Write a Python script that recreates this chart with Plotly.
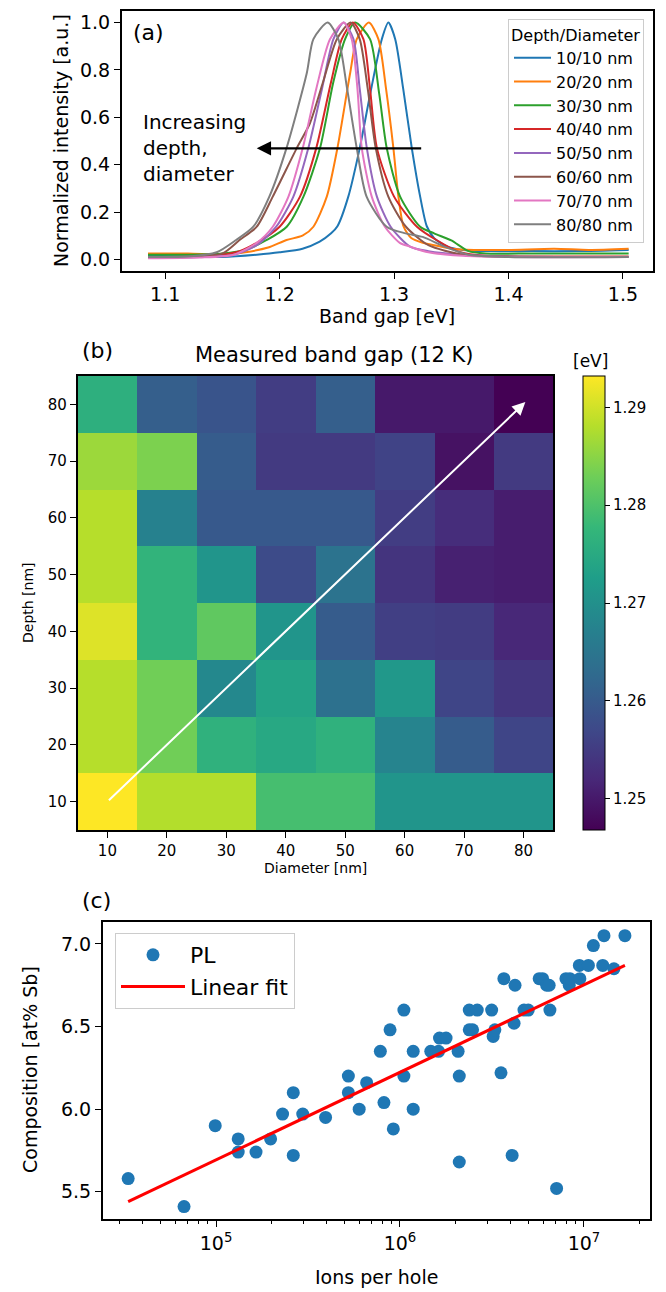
import plotly.graph_objects as go

W, H = 666, 1292
FONT = "DejaVu Sans"

# ---------------- Panel (a): normalized PL spectra ----------------
labels_a = ["10/10 nm", "20/20 nm", "30/30 nm", "40/40 nm",
            "50/50 nm", "60/60 nm", "70/70 nm", "80/80 nm"]
colors_a = ["#1f77b4", "#ff7f0e", "#2ca02c", "#d62728",
            "#9467bd", "#8c564b", "#e377c2", "#7f7f7f"]

e_10 = [1.085, 1.12, 1.15, 1.18, 1.20, 1.22, 1.235, 1.245, 1.2505, 1.26, 1.27, 1.28, 1.2893, 1.295,
        1.301, 1.308, 1.3155, 1.3228, 1.3286, 1.335, 1.346, 1.36, 1.38, 1.42, 1.46, 1.505]
i_10 = [0.015, 0.012, 0.01, 0.02, 0.03, 0.045, 0.075, 0.11, 0.14, 0.265, 0.47, 0.72, 0.93, 1.0,
        0.93, 0.72, 0.47, 0.265, 0.14, 0.09, 0.055, 0.04, 0.035, 0.035, 0.035, 0.04]

e_20 = [1.085, 1.12, 1.15, 1.17, 1.19, 1.206, 1.22, 1.2295, 1.2412, 1.2505, 1.2616, 1.2674, 1.278,
        1.2863, 1.293, 1.2994, 1.3038, 1.3082, 1.315, 1.325, 1.335, 1.35, 1.37, 1.40, 1.44, 1.47, 1.505]
i_20 = [0.025, 0.025, 0.02, 0.03, 0.05, 0.082, 0.1, 0.138, 0.265, 0.47, 0.786, 0.93, 1.0,
        0.93, 0.72, 0.47, 0.265, 0.14, 0.09, 0.07, 0.06, 0.045, 0.04, 0.04, 0.045, 0.04, 0.045]

e_30 = [1.085, 1.12, 1.15, 1.17, 1.1887, 1.2062, 1.2208, 1.2353, 1.247, 1.2572, 1.266, 1.279, 1.287,
        1.2936, 1.3053, 1.3228, 1.335, 1.35, 1.365, 1.38, 1.42, 1.46, 1.505]
i_30 = [0.02, 0.02, 0.025, 0.04, 0.082, 0.138, 0.265, 0.47, 0.75, 0.93, 1.0, 0.93, 0.7,
        0.47, 0.265, 0.138, 0.11, 0.08, 0.035, 0.025, 0.025, 0.025, 0.025]

e_40 = [1.085, 1.12, 1.15, 1.165, 1.18, 1.20, 1.2178, 1.232, 1.245, 1.2543, 1.264, 1.2732, 1.279,
        1.285, 1.30, 1.32, 1.337, 1.358, 1.38, 1.42, 1.505]
i_40 = [0.01, 0.01, 0.02, 0.035, 0.07, 0.138, 0.265, 0.47, 0.75, 0.93, 1.0, 0.93, 0.72,
        0.47, 0.265, 0.138, 0.082, 0.03, 0.015, 0.012, 0.012]

e_50 = [1.085, 1.13, 1.16, 1.18, 1.197, 1.212, 1.2251, 1.237, 1.247, 1.256, 1.2645, 1.27, 1.2762,
        1.285, 1.297, 1.314, 1.33, 1.36, 1.40, 1.505]
i_50 = [0.01, 0.01, 0.02, 0.06, 0.138, 0.265, 0.47, 0.72, 0.93, 1.0, 0.93, 0.72, 0.47,
        0.265, 0.138, 0.054, 0.035, 0.02, 0.012, 0.01]

e_60 = [1.085, 1.12, 1.15, 1.165, 1.18, 1.194, 1.215, 1.2265, 1.238, 1.25, 1.262, 1.27, 1.277,
        1.284, 1.295, 1.31, 1.33, 1.36, 1.40, 1.505]
i_60 = [0.01, 0.012, 0.025, 0.082, 0.138, 0.265, 0.47, 0.575, 0.75, 0.93, 1.0, 0.93, 0.72,
        0.47, 0.265, 0.14, 0.06, 0.02, 0.012, 0.01]

e_70 = [1.085, 1.13, 1.16, 1.18, 1.194, 1.2077, 1.2202, 1.232, 1.244, 1.256, 1.263, 1.268, 1.2718,
        1.2805, 1.292, 1.305, 1.314, 1.33, 1.36, 1.40, 1.505]
i_70 = [0.005, 0.008, 0.02, 0.07, 0.138, 0.265, 0.47, 0.72, 0.93, 1.0, 0.93, 0.72, 0.47,
        0.265, 0.138, 0.07, 0.054, 0.03, 0.015, 0.01, 0.01]

e_80 = [1.085, 1.12, 1.145, 1.162, 1.177, 1.191, 1.206, 1.2237, 1.2295, 1.242, 1.2513, 1.259, 1.2674,
        1.276, 1.2935, 1.31, 1.325, 1.344, 1.365, 1.40, 1.505]
i_80 = [0.01, 0.012, 0.03, 0.082, 0.138, 0.265, 0.47, 0.786, 0.93, 1.0, 0.93, 0.72, 0.47,
        0.265, 0.138, 0.11, 0.095, 0.054, 0.02, 0.01, 0.01]

spectra_e = [e_10, e_20, e_30, e_40, e_50, e_60, e_70, e_80]
spectra_i = [i_10, i_20, i_30, i_40, i_50, i_60, i_70, i_80]

# ---------------- Panel (b): measured band gap map ----------------
diam = [10, 20, 30, 40, 50, 60, 70, 80]
depth = [10, 20, 30, 40, 50, 60, 70, 80]
gap = [  # rows: depth 10 -> 80, cols: diameter 10 -> 80
    [1.2932, 1.2879, 1.2879, 1.2793, 1.2793, 1.2710, 1.2710, 1.2710],
    [1.2881, 1.2830, 1.2765, 1.2746, 1.2765, 1.2677, 1.2603, 1.2565],
    [1.2881, 1.2830, 1.2686, 1.2737, 1.2640, 1.2714, 1.2565, 1.2542],
    [1.2909, 1.2770, 1.2816, 1.2710, 1.2603, 1.2556, 1.2551, 1.2519],
    [1.2881, 1.2770, 1.2710, 1.2575, 1.2644, 1.2538, 1.2510, 1.2505],
    [1.2881, 1.2672, 1.2598, 1.2598, 1.2598, 1.2552, 1.2528, 1.2505],
    [1.2862, 1.2839, 1.2603, 1.2547, 1.2547, 1.2561, 1.2490, 1.2547],
    [1.2760, 1.2607, 1.2589, 1.2552, 1.2607, 1.2500, 1.2500, 1.2468],
]
cbar_ticks = [1.25, 1.26, 1.27, 1.28, 1.29]

# ---------------- Panel (c): composition vs ions per hole ----------------
ions = [3.33e4, 6.7e4, 9.9e4, 1.32e5, 1.32e5, 1.65e5, 1.98e5, 2.30e5, 2.63e5, 2.63e5,
        2.96e5, 3.94e5, 5.24e5, 5.24e5, 6.0e5, 6.59e5, 7.82e5, 8.18e5, 8.83e5, 9.2e5,
        1.05e6, 1.05e6, 1.18e6, 1.18e6, 1.47e6, 1.62e6, 1.64e6, 1.78e6, 2.07e6, 2.10e6,
        2.10e6, 2.38e6, 2.38e6, 2.48e6, 2.63e6, 3.15e6, 3.21e6, 3.28e6, 3.54e6, 3.67e6,
        4.07e6, 4.17e6, 4.22e6, 4.72e6, 4.98e6, 5.71e6, 5.96e6, 6.27e6, 6.47e6, 6.53e6,
        7.10e6, 7.98e6, 8.32e6, 8.39e6, 9.5e6, 9.44e6, 1.057e7, 1.125e7, 1.265e7, 1.285e7,
        1.455e7, 1.67e7]
comp = [5.58, 5.41, 5.90, 5.82, 5.74, 5.74, 5.82, 5.97, 6.10, 5.72,
        5.97, 5.95, 6.20, 6.10, 6.00, 6.16, 6.35, 6.04, 6.48, 5.88,
        6.60, 6.20, 6.35, 6.00, 6.35, 6.35, 6.43, 6.43, 6.35, 6.20,
        5.68, 6.60, 6.48, 6.48, 6.60, 6.60, 6.44, 6.48, 6.22, 6.79,
        5.72, 6.52, 6.75, 6.60, 6.60, 6.79, 6.79, 6.75, 6.75, 6.60,
        5.52, 6.79, 6.75, 6.79, 6.79, 6.87, 6.87, 6.99, 6.87, 7.05,
        6.85, 7.05]
fit_ions = [3.33e4, 1.67e7]
fit_comp = [5.44, 6.871]

fig = go.Figure()

for e, i, lab, col in zip(spectra_e, spectra_i, labels_a, colors_a):
    fig.add_trace(go.Scatter(x=e, y=i, mode="lines", name=lab,
                             line=dict(color=col, width=2, shape="spline", smoothing=0.7),
                             xaxis="x", yaxis="y", legend="legend"))

fig.add_trace(go.Heatmap(x=diam, y=depth, z=gap, colorscale="Viridis",
                         zmin=1.2468, zmax=1.2932, xaxis="x2", yaxis="y2",
                         showscale=True,
                         colorbar=dict(x=582.7 / W, xanchor="left", xpad=0, ypad=0,
                                       y=1 - 376 / H, yanchor="top",
                                       len=454 / H, lenmode="fraction", thickness=22,
                                       outlinewidth=1, outlinecolor="black",
                                       tickvals=cbar_ticks, ticktext=[f"{v:.2f}" for v in cbar_ticks],
                                       ticks="outside", ticklen=5, tickwidth=1.2, tickcolor="black",
                                       tickfont=dict(size=15, color="black", family=FONT))))

fig.add_trace(go.Scatter(x=ions, y=comp, mode="markers", name="PL",
                         marker=dict(color="#1f77b4", size=13),
                         xaxis="x3", yaxis="y3", legend="legend2"))
fig.add_trace(go.Scatter(x=fit_ions, y=fit_comp, mode="lines", name="Linear fit",
                         line=dict(color="red", width=3),
                         xaxis="x3", yaxis="y3", legend="legend2"))

axis_common = dict(showline=True, linecolor="black", linewidth=1.6, mirror=True,
                   ticks="outside", ticklen=6, tickwidth=1.3, tickcolor="black",
                   showgrid=False, zeroline=False)

fig.update_layout(
    width=W, height=H, margin=dict(l=0, r=0, t=0, b=0),
    paper_bgcolor="white", plot_bgcolor="white",
    font=dict(family=FONT, color="black"),
    xaxis=dict(domain=[121.7 / W, 652.7 / W], range=[1.062, 1.526], anchor="y",
               tickvals=[1.1, 1.2, 1.3, 1.4, 1.5], ticktext=["1.1", "1.2", "1.3", "1.4", "1.5"],
               tickfont=dict(size=19), **axis_common),
    yaxis=dict(domain=[1 - 270.7 / H, 1 - 11 / H], range=[-0.0477, 1.049], anchor="x",
               tickvals=[0, 0.2, 0.4, 0.6, 0.8, 1.0], ticktext=["0.0", "0.2", "0.4", "0.6", "0.8", "1.0"],
               tickfont=dict(size=19), **axis_common),
    xaxis2=dict(domain=[77.7 / W, 553.3 / W], range=[5, 85], anchor="y2",
                tickvals=diam, tickfont=dict(size=15), **axis_common),
    yaxis2=dict(domain=[1 - 830 / H, 1 - 376 / H], range=[5, 85], anchor="x2",
                tickvals=depth, tickfont=dict(size=15), **axis_common),
    xaxis3=dict(domain=[102.7 / W, 650 / W], type="log", range=[4.384, 7.359], anchor="y3",
                tickvals=[1e5, 1e6, 1e7], ticktext=["10<sup>5</sup>", "10<sup>6</sup>", "10<sup>7</sup>"],
                tickfont=dict(size=19),
                minor=dict(ticks="outside", ticklen=3.5, tickwidth=1, tickcolor="black",
                           tickvals=[k * 10 ** p for p in (4, 5, 6, 7) for k in range(2, 10)]),
                **axis_common),
    yaxis3=dict(domain=[1 - 1219 / H, 1 - 922 / H], range=[5.335, 7.133], anchor="x3",
                tickvals=[5.5, 6.0, 6.5, 7.0], ticktext=["5.5", "6.0", "6.5", "7.0"],
                tickfont=dict(size=19), **axis_common),
    legend=dict(x=644 / W, xanchor="right", y=1 - 19 / H, yanchor="top",
                bgcolor="rgba(255,255,255,0.85)", bordercolor="#cccccc", borderwidth=1,
                font=dict(size=16), title=dict(text="Depth/Diameter", font=dict(size=16)),
                itemwidth=37),
    legend2=dict(x=115 / W, xanchor="left", y=1 - 933 / H, yanchor="top",
                 bgcolor="rgba(255,255,255,0.85)", bordercolor="#cccccc", borderwidth=1,
                 font=dict(size=22), itemwidth=64),
)

ann = []
def txt(text, x, y, size, xanchor="center", yanchor="middle", angle=0, align="center",
        xref="paper", yref="paper"):
    ann.append(dict(text=text, x=x, y=y, xref=xref, yref=yref, xanchor=xanchor, yanchor=yanchor,
                    textangle=angle, showarrow=False, align=align,
                    font=dict(size=size, family=FONT, color="black")))

# panel labels
txt("(a)", 131 / W, 1 - 33 / H, 22, xanchor="left")
txt("(b)", 80 / W, 1 - 350 / H, 22, xanchor="left")
txt("(c)", 80 / W, 1 - 901 / H, 22, xanchor="left")
# axis titles
txt("Normalized intensity [a.u.]", 61 / W, 1 - 141 / H, 19, angle=-90)
txt("Band gap [eV]", 387 / W, 1 - 316 / H, 19)
txt("Measured band gap (12 K)", 334 / W, 1 - 355 / H, 21)
txt("Depth [nm]", 28 / W, 1 - 603 / H, 14, angle=-90)
txt("Diameter [nm]", 315.5 / W, 1 - 868 / H, 14)
txt("[eV]", 590 / W, 1 - 361 / H, 17)
txt("Composition [at% Sb]", 30 / W, 1 - 1070 / H, 19, angle=-90)
txt("Ions per hole", 376 / W, 1 - 1277 / H, 19)
# in-plot text (a)
txt("Increasing<br>depth,<br>diameter", 1.079, 0.469, 20, xanchor="left", align="left",
    xref="x", yref="y")

# arrows
ann.append(dict(x=1.18, y=0.469, ax=1.325, ay=0.469, xref="x", yref="y", axref="x", ayref="y",
                text="", showarrow=True, arrowhead=2, arrowsize=1.3, arrowwidth=2.2,
                arrowcolor="black"))
ann.append(dict(x=80.3, y=80.4, ax=10, ay=10, xref="x2", yref="y2", axref="x2", ayref="y2",
                text="", showarrow=True, arrowhead=2, arrowsize=1.3, arrowwidth=2,
                arrowcolor="white"))

fig.update_layout(annotations=ann)
fig.write_html("out.html", config={"displayModeBar": False},
               post_script="document.body.style.margin='0px';")
